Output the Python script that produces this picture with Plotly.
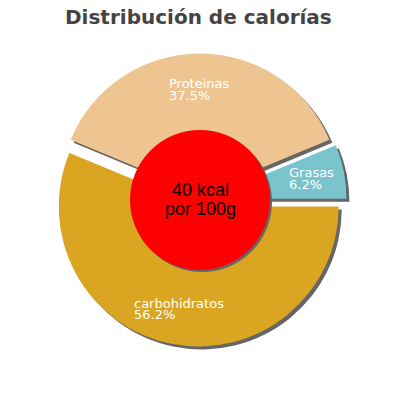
import math
import plotly.graph_objects as go

# ---- data ----
labels = ["carbohidratos", "Proteinas", "Grasas"]
kcal_values = [22.5, 15.0, 2.5]
slice_colors = ["#DAA520", "#EEC591", "#7AC5CD"]
title_text = "Distribución de calorías"
center_lines = ["40 kcal", "por 100g"]

# ---- geometry (pixels) ----
W = H = 400
CX, CY = 200, 200
R = 140
PULL = 0.047
SHADOW = 3
HOLE_R = 70
LABEL_R = 111

half = R * (1 + PULL)


def dom(dx=0, dy=0):
    return dict(
        x=[(CX - half + dx) / W, (CX + half + dx) / W],
        y=[1 - (CY + half + dy) / H, 1 - (CY - half + dy) / H],
    )


common = dict(
    labels=labels,
    values=kcal_values,
    sort=False,
    direction="clockwise",
    rotation=90,
    pull=[PULL] * len(labels),
    hole=0.4,
    textinfo="none",
    hoverinfo="skip",
    showlegend=False,
)

fig = go.Figure()
fig.add_trace(go.Pie(**common, domain=dom(SHADOW, SHADOW),
                     marker=dict(colors=["#666666"] * len(labels), line=dict(width=0))))
fig.add_trace(go.Pie(**common, domain=dom(),
                     marker=dict(colors=slice_colors, line=dict(width=0))))

# center circle with shadow
fig.add_shape(type="circle", xref="paper", yref="paper",
              x0=(CX - HOLE_R + 2) / W, x1=(CX + HOLE_R + 2) / W,
              y0=1 - (CY + HOLE_R + 2) / H, y1=1 - (CY - HOLE_R + 2) / H,
              fillcolor="#666666", line=dict(width=0))
fig.add_shape(type="circle", xref="paper", yref="paper",
              x0=(CX - HOLE_R) / W, x1=(CX + HOLE_R) / W,
              y0=1 - (CY + HOLE_R) / H, y1=1 - (CY - HOLE_R) / H,
              fillcolor="#FF0000", line=dict(width=0))

annotations = []
# slice labels computed from data
total = sum(kcal_values)
start = 90.0
cum = 0.0
lab_font = dict(family="DejaVu Sans", size=13, color="white")
for name, v in zip(labels, kcal_values):
    frac = v / total
    mid = math.radians(start + (cum + frac / 2) * 360)
    cum += frac
    lx = CX + LABEL_R * math.sin(mid)
    ly = CY - LABEL_R * math.cos(mid)
    left = lx - 7.0 * len(name) / 2
    annotations.append(dict(x=left / W, y=1 - (ly - 5.5) / H, xref="paper", yref="paper",
                            text=name, showarrow=False, xanchor="left", yanchor="middle",
                            borderpad=0, font=lab_font))
    annotations.append(dict(x=left / W, y=1 - (ly + 6) / H, xref="paper", yref="paper",
                            text=f"{frac * 100:.1f}%", showarrow=False, xanchor="left",
                            yanchor="middle", borderpad=0, font=lab_font))

# center text
for i, line in enumerate(center_lines):
    annotations.append(dict(x=CX / W, y=1 - (190 + 19 * i) / H, xref="paper", yref="paper",
                            text=line, showarrow=False, xanchor="center", yanchor="middle",
                            borderpad=0,
                            font=dict(family="Liberation Sans", size=18, color="black")))

# title
annotations.append(dict(x=198.5 / W, y=1 - 17.5 / H, xref="paper", yref="paper",
                        text=f"<b>{title_text}</b>", showarrow=False, xanchor="center",
                        yanchor="middle",
                        font=dict(family="DejaVu Sans", size=20, color="#444444")))

fig.update_layout(width=W, height=H, margin=dict(l=0, r=0, t=0, b=0),
                  paper_bgcolor="white", plot_bgcolor="white",
                  annotations=annotations)

fig.write_html("out.html", config={"displayModeBar": False},
               post_script="document.body.style.margin='0';")
